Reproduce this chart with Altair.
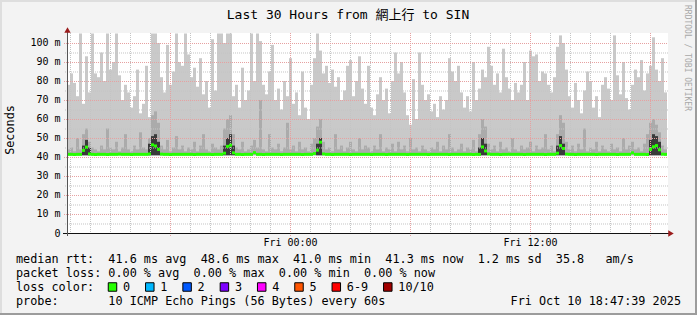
import altair as alt
import pandas as pd

MONO = "DejaVu Sans Mono, Noto Sans CJK TC"
FS = 11.8
AXFS = 10

# time axis: hours relative to Fri 00:00
T0 = -11.15
T_END = 18.9
STEP = 0.15
Y_MAX = 105.263

smoke_hi = [
    78, 84, 79, 72, 105, 68, 93, 74, 105, 84, 82, 95, 80, 105, 86, 90, 105, 83, 70, 78,
    74, 66, 72, 86, 63, 68, 88, 61, 105, 105, 100, 82, 74, 99, 78, 85, 105, 90, 88, 105,
    94, 82, 87, 77, 92, 73, 80, 66, 102, 75, 105, 105, 100, 105, 105, 72, 78, 66, 87, 70,
    75, 105, 80, 105, 101, 78, 73, 85, 99, 70, 76, 65, 80, 72, 92, 68, 74, 62, 85, 66,
    60, 78, 92, 105, 96, 84, 88, 79, 86, 77, 82, 70, 75, 88, 91, 72, 80, 93, 76, 68,
    88, 66, 62, 73, 82, 70, 76, 63, 80, 95, 84, 90, 74, 62, 57, 81, 60, 95, 78, 70,
    73, 64, 68, 61, 72, 65, 70, 92, 85, 80, 88, 74, 66, 72, 64, 90, 70, 76, 86, 82,
    98, 88, 78, 84, 74, 97, 82, 76, 70, 79, 74, 78, 90, 70, 96, 93, 94, 80, 85, 84,
    78, 74, 82, 98, 104, 100, 86, 72, 66, 79, 70, 63, 75, 85, 80, 66, 72, 61, 78, 82,
    76, 70, 104, 83, 73, 90, 71, 65, 78, 86, 82, 91, 75, 84, 88, 103, 86, 80, 92, 74,
]

smoke_mid = [
    44, 45, 43, 50, 44, 52, 55, 48, 45, 44, 43, 46, 44, 55, 45, 44, 48, 43, 45, 52,
    44, 43, 46, 44, 53, 45, 44, 50, 62, 64, 58, 46, 44, 49, 43, 45, 51, 44, 46, 43,
    45, 44, 48, 43, 46, 52, 44, 43, 47, 45, 44, 46, 55, 60, 62, 52, 45, 44, 48, 43,
    44, 46, 49, 45, 70, 44, 43, 52, 45, 44, 47, 43, 45, 58, 44, 46, 43, 48, 44, 45,
    43, 47, 50, 56, 60, 48, 44, 45, 43, 52, 44, 46, 43, 45, 48, 44, 43, 50, 44, 46,
    45, 43, 46, 44, 52, 43, 45, 44, 47, 43, 48, 44, 46, 43, 50, 44, 45, 43, 46, 44,
    43, 45, 44, 48, 43, 46, 44, 52, 45, 43, 44, 47, 43, 45, 44, 49, 43, 52, 60, 56,
    47, 44, 46, 43, 48, 44, 45, 43, 50, 44, 43, 46, 44, 45, 48, 43, 46, 44, 45, 52,
    44, 46, 43, 52, 62, 58, 48, 44, 46, 43, 47, 44, 55, 43, 45, 44, 48, 43, 46, 44,
    43, 47, 44, 45, 43, 50, 44, 46, 48, 44, 45, 43, 47, 52, 58, 60, 57, 53, 46, 44,
]

median_rtt = [
    41.4, 41.4, 41.3, 41.4, 41.4, 43.5, 45.2, 41.6, 41.4, 41.3, 41.4, 41.4, 41.4, 41.3, 41.4, 41.4, 41.4, 41.5, 41.4, 41.4,
    41.4, 41.3, 41.4, 41.4, 41.4, 41.4, 41.4, 41.6, 46.4, 45.8, 44.0, 41.5, 41.4, 41.4, 41.3, 41.4, 41.4, 41.4, 41.4, 41.4,
    41.4, 41.4, 41.3, 41.4, 41.4, 41.4, 41.4, 41.4, 41.3, 41.4, 41.4, 41.4, 42.0, 45.6, 46.2, 42.2, 41.4, 41.4, 41.3, 41.4,
    41.4, 41.4, 42.3, 41.4, 41.4, 41.3, 41.4, 41.4, 41.4, 41.4, 41.4, 41.3, 41.4, 41.4, 41.4, 41.4, 41.4, 41.4, 41.3, 41.4,
    41.4, 41.4, 41.8, 43.6, 47.8, 41.6, 41.4, 41.4, 41.3, 41.4, 41.4, 41.4, 41.4, 41.4, 41.3, 41.4, 41.4, 41.4, 41.4, 41.4,
    41.4, 41.3, 41.4, 41.4, 41.4, 41.4, 41.3, 41.4, 41.4, 41.4, 41.4, 41.4, 41.4, 41.3, 41.4, 41.4, 41.4, 41.4, 41.4, 41.4,
    41.3, 41.4, 41.4, 41.4, 41.4, 41.4, 41.4, 41.3, 41.4, 41.4, 41.4, 41.4, 41.4, 41.4, 41.4, 41.3, 41.4, 41.4, 45.3, 43.2,
    41.6, 41.4, 41.4, 41.4, 41.3, 41.4, 41.4, 41.4, 41.4, 41.4, 41.4, 41.4, 41.3, 41.4, 41.4, 41.4, 41.4, 41.4, 41.4, 41.3,
    41.4, 41.4, 41.4, 42.0, 46.0, 44.5, 41.5, 41.4, 41.4, 41.3, 41.4, 41.4, 41.4, 41.4, 41.4, 41.4, 41.3, 41.4, 41.4, 41.4,
    41.4, 41.4, 41.4, 41.3, 41.4, 41.4, 41.4, 41.4, 42.2, 41.4, 41.4, 41.4, 41.4, 41.3, 44.0, 45.4, 46.0, 43.8, 41.5, 41.4,
]

dark_bins = [5, 6, 7, 27, 28, 29, 30, 52, 53, 54, 55, 83, 84, 137, 138, 139, 163, 164, 165, 194, 195, 196, 197]
dark_top = [46, 49, 45, 47, 51, 52, 48, 46, 50, 52, 46, 47, 50, 45, 50, 47, 46, 51, 47, 49, 52, 51, 48]

minor_hours = [h for h in range(-11, 19) if h % 6 != 0]
major_hours = [-6, 0, 6, 12, 18]
minor_ms = [5, 15, 25, 35, 45, 55, 65, 75, 85, 95]
major_ms = [10, 20, 30, 40, 50, 60, 70, 80, 90, 100]
y_ticks = [0, 10, 20, 30, 40, 50, 60, 70, 80, 90, 100]
x_ticks = [0, 12]

title_text = "Last 30 Hours from 網上行 to SIN"
legend_lines = [
    "median rtt:  41.6 ms avg  48.6 ms max  41.0 ms min  41.3 ms now  1.2 ms sd  35.8   am/s",
    "packet loss: 0.00 % avg  0.00 % max  0.00 % min  0.00 % now",
    "loss color:",
    "probe:       10 ICMP Echo Pings (56 Bytes) every 60s",
]
loss_labels = ["0", "1", "2", "3", "4", "5", "6-9", "10/10"]
loss_colors = ["#26ff00", "#00b8ff", "#0059ff", "#7e00ff", "#ff00ff", "#ff5500", "#ff0000", "#a10000"]
stamp = "Fri Oct 10 18:47:39 2025"

n = len(smoke_hi)
df = pd.DataFrame({
    "t": [T0 + STEP * i for i in range(n)],
    "t2": [T0 + STEP * (i + 1) for i in range(n)],
    "hi": smoke_hi,
    "mid": smoke_mid,
    "med": median_rtt,
    "base": [40.9] * n,
})
ddf = pd.DataFrame({
    "t": [T0 + STEP * i for i in dark_bins],
    "t2": [T0 + STEP * (i + 1) for i in dark_bins],
    "top": dark_top,
    "base": [40.9] * len(dark_bins),
})

XS = alt.Scale(domain=[T0, T_END], nice=False, zero=False)
YS = alt.Scale(domain=[0, Y_MAX], nice=False, zero=False)
X_AX = alt.Axis(values=x_ticks, labelExpr="datum.value == 0 ? 'Fri 00:00' : 'Fri 12:00'",
                labelFont=MONO, labelFontSize=AXFS, labelColor="#000000", labelPadding=4,
                ticks=False, domain=False, grid=False, title=None, labelFlush=False)
Y_AX = alt.Axis(values=y_ticks, labelExpr="datum.value == 0 ? '0' : datum.value + ' m'",
                labelFont=MONO, labelFontSize=AXFS, labelColor="#000000", labelPadding=7,
                ticks=False, domain=False, grid=False, title=None)


def X(f):
    return alt.X(f, scale=XS, axis=X_AX)


def Y(f):
    return alt.Y(f, scale=YS, axis=Y_AX)


light = alt.Chart(df).mark_rect(color="#c9c9c9").encode(x=X("t:Q"), x2="t2:Q", y=Y("base:Q"), y2="hi:Q")
mid = alt.Chart(df).mark_rect(color="#ababab").encode(x=X("t:Q"), x2="t2:Q", y=Y("base:Q"), y2="mid:Q")
dark = alt.Chart(ddf).mark_rect(color="#3a3a3a").encode(x=X("t:Q"), x2="t2:Q", y=Y("base:Q"), y2="top:Q")

gv_minor = alt.Chart(pd.DataFrame({"h": minor_hours})).mark_rule(
    color="#c4c4c4", strokeDash=[1, 1], strokeWidth=1, xOffset=0.5).encode(
    x=X("h:Q"), y=alt.value(0), y2=alt.value(202))
gv_major = alt.Chart(pd.DataFrame({"h": major_hours})).mark_rule(
    color="#e6a0a0", strokeDash=[1, 1], strokeWidth=1, xOffset=0.5).encode(
    x=X("h:Q"), y=alt.value(0), y2=alt.value(204))
gh_minor = alt.Chart(pd.DataFrame({"v": minor_ms})).mark_rule(
    color="#c4c4c4", strokeDash=[1, 1], strokeWidth=1, yOffset=0.5).encode(
    y=Y("v:Q"), x=alt.value(-2), x2=alt.value(601))
gh_major = alt.Chart(pd.DataFrame({"v": major_ms})).mark_rule(
    color="#e6a0a0", strokeDash=[1, 1], strokeWidth=1, yOffset=0.5).encode(
    y=Y("v:Q"), x=alt.value(-3), x2=alt.value(601))

med = alt.Chart(df).mark_rule(color="#26ff00", strokeWidth=3).encode(x=X("t:Q"), x2="t2:Q", y=Y("med:Q"))

one = pd.DataFrame({"k": [0]})
x_axis = alt.Chart(one).mark_rule(color="#111111", strokeWidth=1).encode(
    x=alt.value(-4), x2=alt.value(603), y=alt.value(200.5))
y_axis = alt.Chart(one).mark_rule(color="#555555", strokeWidth=1).encode(
    x=alt.value(0.5), y=alt.value(203), y2=alt.value(-3))
arrow_up = alt.Chart(one).mark_point(shape="triangle-up", filled=True, color="#9b1c1c", size=40, opacity=1).encode(
    x=alt.value(0.5), y=alt.value(-3))
arrow_right = alt.Chart(one).mark_point(shape="triangle-right", filled=True, color="#9b1c1c", size=40, opacity=1).encode(
    x=alt.value(604), y=alt.value(200.5))


def text(s, x, y, size=FS, align="left", angle=0, color="#000000"):
    d = pd.DataFrame({"s": [s.replace(" ", "\u00a0")]})
    return alt.Chart(d).mark_text(font=MONO, fontSize=size, align=align, baseline="middle",
                                  angle=angle, color=color).encode(
        x=alt.value(x), y=alt.value(y), text="s:N")


layers = [light, mid, dark, gv_minor, gh_minor, gv_major, gh_major, med, x_axis, y_axis, arrow_up, arrow_right]

layers.append(text(title_text, 281, -18, size=13, align="center"))
layers.append(text("Seconds", -57, 97, angle=270, align="center"))
layers.append(text("RRDTOOL / TOBI OETIKER", 620, 25, size=8, angle=90, align="center", color="#a8a8a8"))

line_y = [226, 240, 254, 268]
for s, yy in zip(legend_lines, line_y):
    layers.append(text(s, -51, yy))
layers.append(text(stamp, 614, 268, align="right"))

# loss colour swatches
bx = 108.0
box_rows = []
for lab, col in zip(loss_labels, loss_colors):
    box_rows.append({"cx": bx + 4.5 - 67, "lx": bx + 15 - 67, "lab": lab, "col": col})
    bx = bx + 15 + len(lab) * 7.1 + 15.2
for r in box_rows:
    sw = alt.Chart(one).mark_square(size=72, filled=True, color=r["col"], stroke="#000000",
                                    strokeWidth=1, opacity=1).encode(x=alt.value(r["cx"]), y=alt.value(254))
    layers.append(sw)
    layers.append(text(r["lab"], r["lx"], 254))

# frame
layers.append(alt.Chart(one).mark_rule(color="#dedede", strokeWidth=2).encode(
    x=alt.value(-66), y=alt.value(-33), y2=alt.value(282)))
layers.append(alt.Chart(one).mark_rule(color="#dedede", strokeWidth=2).encode(
    y=alt.value(-32), x=alt.value(-67), x2=alt.value(630)))
layers.append(alt.Chart(one).mark_rule(color="#9c9c9c", strokeWidth=2).encode(
    x=alt.value(629), y=alt.value(-33), y2=alt.value(282)))
layers.append(alt.Chart(one).mark_rule(color="#9c9c9c", strokeWidth=2).encode(
    y=alt.value(281), x=alt.value(-67), x2=alt.value(630)))

chart = alt.layer(*layers).properties(
    width=601, height=200,
    padding={"left": 67, "top": 33, "right": 29, "bottom": 82},
    autosize=alt.AutoSizeParams(type="none"),
).configure(background="#f3f3f3").configure_view(fill="#ffffff", stroke=None)

chart.save("out.html", embed_options={"renderer": "svg", "actions": False})
